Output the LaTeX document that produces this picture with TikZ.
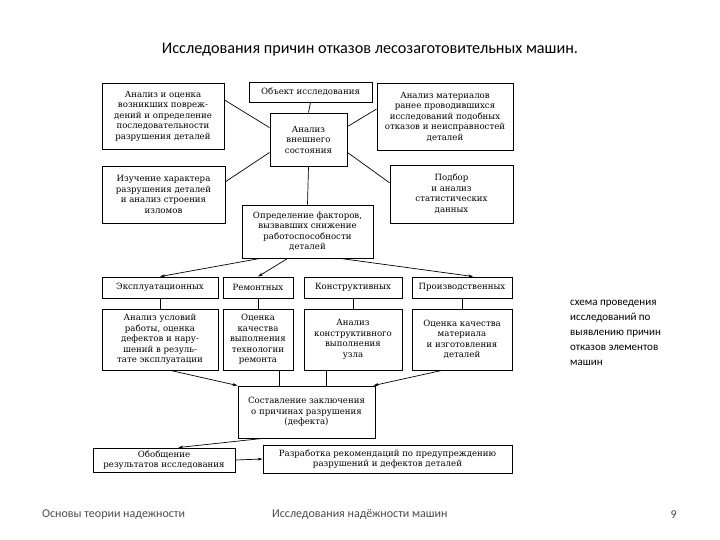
\documentclass[tikz,border=0pt]{standalone}
\usepackage{fontspec}
\setmainfont{DejaVu Serif}
\newfontfamily\calib{Carlito}
\usetikzlibrary{calc,arrows.meta}
\begin{document}
\begin{tikzpicture}[x=1pt,y=-1pt,
  bx/.style={draw=black, line width=0.9pt, inner sep=1pt, align=center,
    font=\fontsize{8.6}{10.5}\selectfont},
  cn/.style={line width=0.7pt},
  ar/.style={line width=0.7pt, -{Stealth[length=5pt,width=3pt]}}]
\useasboundingbox[fill=white] (0,0) rectangle (720,540);
\node[font=\calib\fontsize{16.2}{18}\selectfont] (title) at (370,50) {Исследования причин отказов лесозаготовительных машин.};
% boxes
\node[bx, minimum width=122pt, minimum height=66pt] (A1) at (163,116) {Анализ и оценка\\возникших повреж-\\дений и определение\\последовательности\\разрушения деталей};
\node[bx, minimum width=123pt, minimum height=20pt] (O) at (310.5,92) {Объект исследования};
\node[bx, minimum width=77pt, minimum height=53pt] (V) at (308.5,139.5) {Анализ\\внешнего\\состояния};
\node[bx, minimum width=136pt, minimum height=67pt] (M) at (445,116.5) {Анализ материалов\\ранее проводившихся\\исследований подобных\\отказов и неисправностей\\деталей};
\node[bx, minimum width=123pt, minimum height=57pt] (I) at (163.5,194.5) {Изучение характера\\разрушения деталей\\и анализ строения\\изломов};
\node[bx, minimum width=123pt, minimum height=58pt] (P) at (451.5,194) {Подбор\\и анализ\\статистических\\данных};
\node[bx, minimum width=131pt, minimum height=53pt] (D) at (307.5,231.5) {Определение факторов,\\вызвавших снижение\\работоспособности\\деталей};
\node[bx, minimum width=116pt, minimum height=21pt] (C1) at (160,287.5) {Эксплуатационных};
\node[bx, minimum width=70pt, minimum height=21pt] (C2) at (258,287.5) {Ремонтных};
\node[bx, minimum width=98pt, minimum height=21pt] (C3) at (353,287.5) {Конструктивных};
\node[bx, minimum width=100pt, minimum height=21pt] (C4) at (462,287.5) {Производственных};
\node[bx, minimum width=116pt, minimum height=61pt] (R1) at (160,339.5) {Анализ условий\\работы, оценка\\дефектов и нару-\\шений в резуль-\\тате эксплуатации};
\node[bx, minimum width=70pt, minimum height=61pt] (R2) at (258,339.5) {Оценка\\качества\\выполнения\\технологии\\ремонта};
\node[bx, minimum width=98pt, minimum height=61pt] (R3) at (353,339.5) {Анализ\\конструктивного\\выполнения\\узла};
\node[bx, minimum width=100pt, minimum height=61pt] (R4) at (462,339.5) {Оценка качества\\материала\\и изготовления\\деталей};
\node[bx, minimum width=137pt, minimum height=52pt] (Z) at (306.5,412) {Составление заключения\\о причинах разрушения\\(дефекта)};
\node[bx, minimum width=142pt, minimum height=24pt] (Ob) at (164,460) {Обобщение\\результатов исследования};
\node[bx, minimum width=249pt, minimum height=28pt] (Rz) at (387.5,459) {Разработка рекомендаций по предупреждению\\разрушений и дефектов деталей};
% connectors
\draw[cn] (O.south) -- (V.north);
\draw[cn] ($(A1.north east)!0.26!(A1.south east)$) -- ($(V.north west)!0.28!(V.south west)$);
\draw[cn] ($(M.north west)!0.39!(M.south west)$) -- ($(V.north east)!0.26!(V.south east)$);
\draw[cn] ($(I.north east)!0.28!(I.south east)$) -- ($(V.north west)!0.74!(V.south west)$);
\draw[cn] ($(P.north west)!0.31!(P.south west)$) -- ($(V.north east)!0.74!(V.south east)$);
\draw[cn] (V.south) -- (D.north);
\draw[ar] ($(D.south west)!0.14!(D.south east)$) -- (C1.north);
\draw[ar] ($(D.south west)!0.35!(D.south east)$) -- (C2.north);
\draw[ar] ($(D.south west)!0.75!(D.south east)$) -- ($(C4.north west)!0.61!(C4.north east)$);
\draw[cn] (C1.south) -- (R1.north);
\draw[cn] (C2.south) -- (R2.north);
\draw[cn] (C3.south) -- (R3.north);
\draw[cn] (C4.south) -- (R4.north);
\draw[ar] ($(R1.south west)!0.59!(R1.south east)$) -- (Z.north west);
\coordinate (r2b) at ($(R2.south west)!0.8!(R2.south east)$);
\coordinate (r3b) at ($(R3.south west)!0.23!(R3.south east)$);
\draw[cn] (r2b) -- (r2b |- Z.north);
\draw[cn] (r3b) -- (r3b |- Z.north);
\draw[ar] ($(R4.south west)!0.3!(R4.south east)$) -- ($(Z.north west)!0.985!(Z.north east)$);
\draw[ar] ($(Z.south west)!0.18!(Z.south east)$) -- ($(Ob.north west)!0.6!(Ob.north east)$);
\draw[ar] (Ob.east) -- (Rz.west);
% side note and footer
\node[font=\calib\fontsize{11}{15}\selectfont, align=left, anchor=north west, inner sep=0pt] (note) at (570,300) {схема проведения\\исследований по\\выявлению причин\\отказов элементов\\машин};
\node[font=\calib\fontsize{12}{13}\selectfont, text=black!70, anchor=west, inner sep=0pt] (f1) at (42,515) {Основы теории надежности};
\node[font=\calib\fontsize{12}{13}\selectfont, text=black!70, anchor=west, inner sep=0pt] (f2) at (272,515) {Исследования надёжности машин};
\node[font=\calib\fontsize{12}{13}\selectfont, text=black!70, anchor=east, inner sep=0pt] (f3) at (677,515) {9};
\end{tikzpicture}
\end{document}
